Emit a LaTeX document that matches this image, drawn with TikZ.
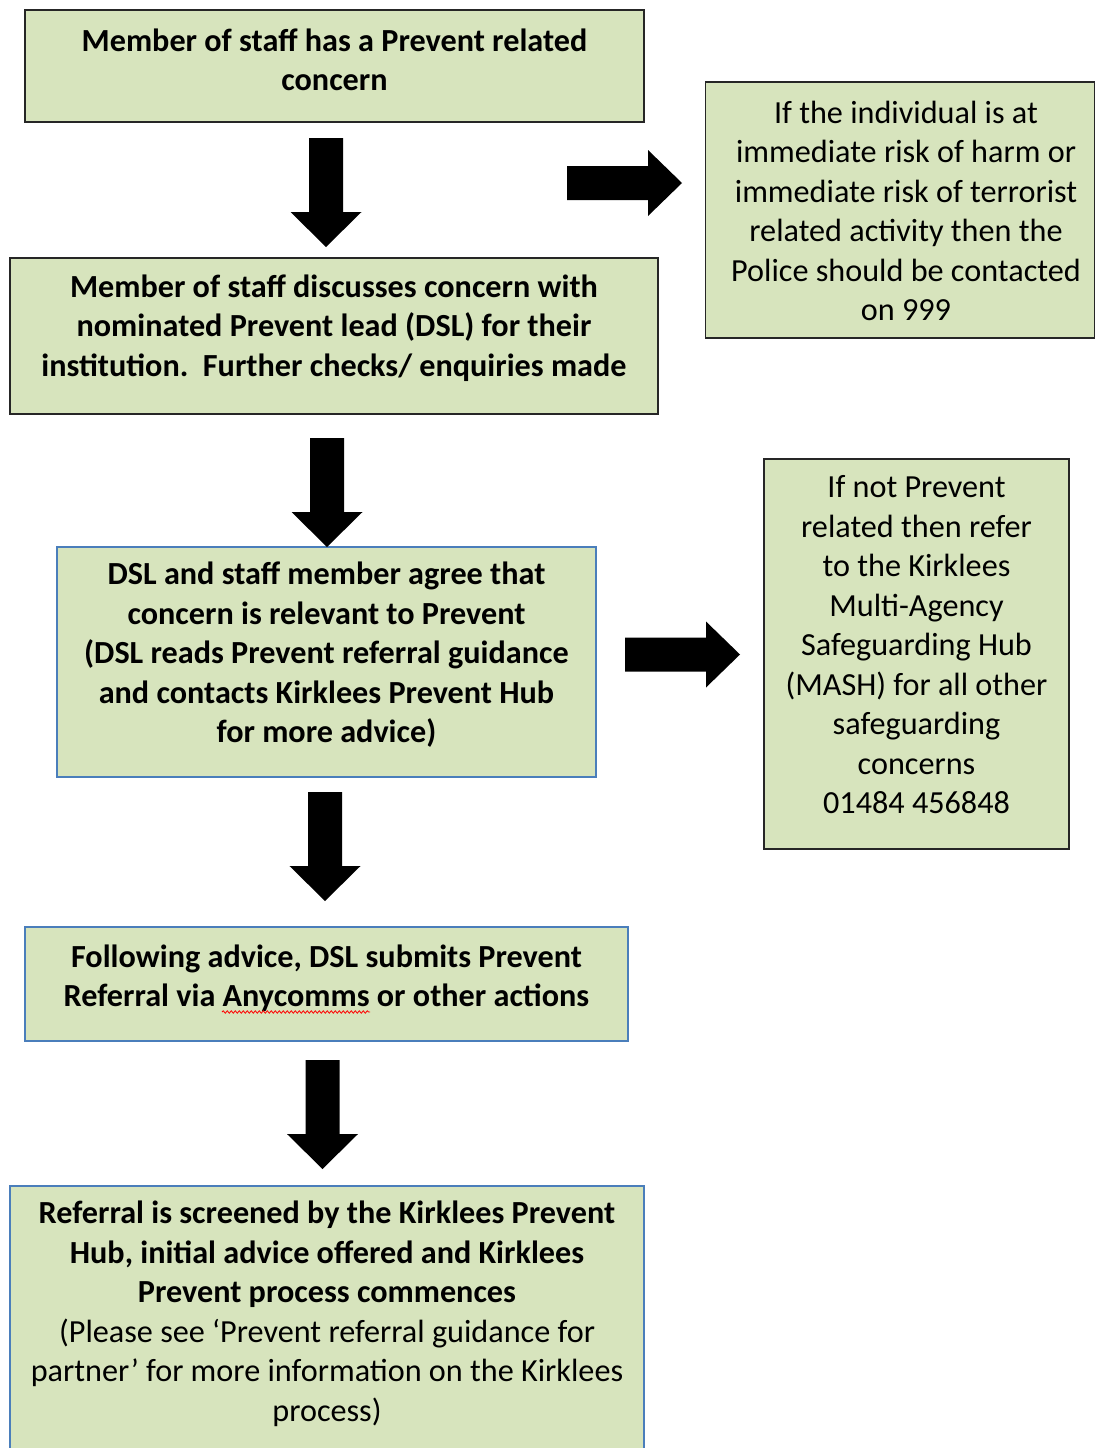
\documentclass[tikz,border=0pt]{standalone}
\usepackage{fontspec}
\setmainfont{Carlito}
\usetikzlibrary{decorations.pathmorphing}
\definecolor{boxfill}{HTML}{D7E4BD}
\definecolor{boxblue}{HTML}{4A7EBB}
\definecolor{boxdark}{HTML}{262626}
\begin{document}
\begin{tikzpicture}[x=1pt,y=-1pt]
\useasboundingbox (0,0) rectangle (1095,1448);
\tikzset{
  box/.style={draw=boxdark, fill=boxfill, line width=1.3pt, inner sep=0pt, rectangle},
  bluebox/.style={box, draw=boxblue},
  txt/.style={align=center, inner sep=0pt, font=\fontsize{32.2}{39.5}\selectfont},
  btxt/.style={txt, font=\fontsize{32.2}{39.5}\selectfont\bfseries},
  darrow/.pic={\fill[black] (-17,0) -- (17,0) -- (17,74) -- (35.5,74) -- (0,109) -- (-35.5,74) -- (-17,74) -- cycle;},
  rarrow/.pic={\fill[black] (0,-17) -- (81,-17) -- (81,-33) -- (115,0) -- (81,33) -- (81,17) -- (0,17) -- cycle;}
}
% boxes
\node[box, minimum width=619, minimum height=112] (a) at (334.5,66) {};
\node[btxt] (at) at (334.5,60) {Member of staff has a Prevent related\\concern};

\node[box, minimum width=648, minimum height=156] (b) at (334,336) {};
\node[btxt] (bt) at (334,328) {Member of staff discusses concern with\\nominated Prevent lead (DSL) for their\\institution.\ \ Further checks/ enquiries made};

\node[box, minimum width=389, minimum height=256] (c) at (900,210) {};
\node[txt] (ct) at (906,211) {If the individual is at\\immediate risk of harm or\\immediate risk of terrorist\\related activity then the\\Police should be contacted\\on 999};

\node[bluebox, minimum width=539, minimum height=230] (d) at (326.5,662) {};
\node[btxt] (dt) at (326.5,655) {DSL and staff member agree that\\concern is relevant to Prevent\\(DSL reads Prevent referral guidance\\and contacts Kirklees Prevent Hub\\for more advice)};

\node[box, minimum width=305, minimum height=390] (e) at (916.5,654) {};
\node[txt] (et) at (916.5,645) {If not Prevent\\related then refer\\to the Kirklees\\Multi-Agency\\Safeguarding Hub\\(MASH) for all other\\safeguarding\\concerns\\01484 456848};

\node[bluebox, minimum width=603, minimum height=114] (f) at (326.5,984) {};
\node[btxt] (ft) at (326.5,978) {Following advice, DSL submits Prevent\\Referral via Anycomms or other actions};

\node[bluebox, minimum width=634, minimum height=280] (g) at (327,1326) {};
\node[txt] (gt) at (327,1314) {\bfseries Referral is screened by the Kirklees Prevent\\\bfseries Hub, initial advice offered and Kirklees\\\bfseries Prevent process commences\\(Please see ‘Prevent referral guidance for\\partner’ for more information on the Kirklees\\process)};

% spell-check squiggle
\coordinate (sq1) at (222,1012);
\coordinate (sq2) at (370,1012);
\draw[red, line width=0.8pt, decorate, decoration={snake, amplitude=1.2pt, segment length=4pt}] (sq1) -- (sq2);

% block arrows
\pic at (326,138) {darrow};
\pic at (327,438) {darrow};
\pic at (325,792) {darrow};
\pic at (322.5,1060) {darrow};
\pic at (567,183) {rarrow};
\pic at (625,654.5) {rarrow};
\end{tikzpicture}
\end{document}
